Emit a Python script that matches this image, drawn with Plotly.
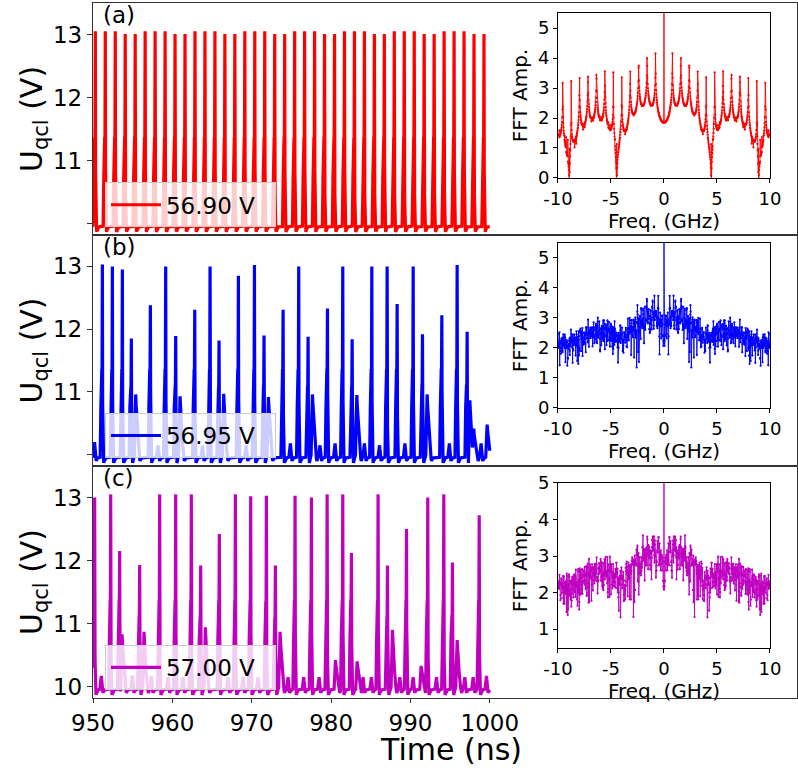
import numpy as np
import plotly.graph_objects as go

# ---------------- data ----------------
labels = ["56.90 V", "56.95 V", "57.00 V"]
panel_tags = ["(a)", "(b)", "(c)"]
colors = ["rgb(255,0,0)", "rgb(0,0,255)", "rgb(191,0,191)"]

# (a) 56.90 V: regular spike train (spike peak times, ns) and peak voltages (V)
spike_t_a = [950.294, 951.550, 952.806, 954.061, 955.317, 956.572, 957.828, 959.084,
             960.339, 961.595, 962.850, 964.106, 965.362, 966.617, 967.873, 969.128,
             970.384, 971.640, 972.895, 974.151, 975.406, 976.662, 977.918, 979.173,
             980.429, 981.684, 982.940, 984.196, 985.451, 986.707, 987.962, 989.218,
             990.474, 991.729, 992.985, 994.240, 995.496, 996.752, 998.007, 999.263]
spike_v_a = [13.05] * len(spike_t_a)

# (b) 56.95 V
spike_t_b = [950.20, 951.18, 952.44, 953.70, 954.83, 955.38, 957.23, 958.20, 959.16, 960.42,
             960.97, 962.82, 963.80, 964.75, 965.88, 966.47, 968.32, 969.30, 970.34, 971.55,
             972.10, 973.95, 974.87, 975.92, 977.10, 977.65, 978.60, 979.54, 980.50, 981.47,
             982.65, 983.24, 984.20, 985.13, 986.10, 987.06, 988.32, 989.30, 990.34, 991.51,
             992.10, 993.95, 994.90, 995.88, 997.14, 997.48, 997.98, 998.90, 999.66]
spike_v_b = [10.20, 13.03, 13.00, 12.95, 11.85, 10.96, 12.38, 10.15, 13.00, 11.89,
             10.93, 12.31, 10.15, 13.00, 11.82, 10.97, 12.85, 10.15, 13.02, 11.90,
             10.92, 12.31, 10.18, 13.00, 11.88, 10.96, 10.15, 12.33, 10.18, 13.00,
             11.84, 10.95, 10.18, 13.00, 10.15, 13.00, 12.40, 10.18, 13.00, 11.92,
             10.96, 12.22, 10.18, 13.02, 11.96, 10.87, 10.43, 10.18, 10.48]

# (c) 57.00 V
spike_t_c = [950.21, 951.05, 952.23, 953.36, 953.66, 954.96, 955.88, 956.43, 957.35, 958.40,
             959.45, 960.42, 961.34, 962.39, 963.57, 964.16, 965.92, 967.02, 967.94, 968.91,
             969.87, 970.80, 971.85, 972.98, 973.57, 974.58, 975.46, 976.55, 977.52, 978.49,
             979.50, 980.55, 981.47, 982.56, 983.28, 984.03, 985.08, 985.92, 987.10, 987.73,
             988.66, 989.50, 990.34, 991.34, 992.18, 993.28, 994.20, 995.29, 995.88, 996.85,
             997.90, 998.66, 999.58]
spike_v_c = [13.00, 10.17, 13.05, 12.15, 10.85, 10.18, 11.93, 10.87, 10.17, 13.05,
             10.15, 13.05, 10.15, 13.05, 11.92, 10.94, 12.42, 10.15, 13.05, 10.15,
             13.02, 10.15, 13.03, 11.92, 10.87, 10.15, 13.03, 10.15, 13.00, 10.15,
             13.05, 10.42, 13.05, 12.12, 10.40, 10.15, 10.15, 13.05, 11.92, 10.90,
             10.15, 12.50, 10.15, 10.33, 13.00, 10.15, 13.05, 11.97, 10.74, 10.15,
             10.15, 12.72, 10.17]

baseline_v = 9.95          # resting voltage between spikes (V)
t_start, t_end = 950.0, 1000.0
dt_ns = 0.001              # simulation step (ns)

time_ticks = [950, 960, 970, 980, 990, 1000]
freq_ticks = [-10, -5, 0, 5, 10]
freq_ticktext = ["-10", "-5", "0", "5", "10"]

# ---------------- build traces from the spike lists ----------------
def spike_profile(p):
    if p >= 11.5:
        h = 11.32 if p > 12.0 else 10.0 + 0.55 * (p - 10.0)
        d = [-0.28, -0.21, -0.175, -0.04, 0.0, 0.03, 0.065, 0.16, 0.35]
        v = [baseline_v, 10.3, h, h + 0.05, p, 11.0, 10.0, 9.87, baseline_v]
    elif p >= 10.3:
        d = [-0.18, 0.0, 0.12, 0.35, 0.55, 0.70]
        v = [baseline_v, p, baseline_v + 0.65 * (p - baseline_v), 10.05, 9.90, baseline_v]
    else:
        d = [-0.20, 0.0, 0.20, 0.35]
        v = [baseline_v, p, 9.90, baseline_v]
    return np.array(d), np.array(v) - baseline_v

t = t_start + dt_ns * np.arange(int(round((t_end - t_start) / dt_ns)))

def waveform(times, peaks):
    assert len(times) == len(peaks)
    u = np.full_like(t, baseline_v)
    for tk, pk in zip(times, peaks):
        d, e = spike_profile(pk)
        u += np.interp(t, tk + d, e, left=0.0, right=0.0)
    return u

def spectrum(u):
    X = np.fft.fftshift(np.fft.fft(u))
    f = np.fft.fftshift(np.fft.fftfreq(len(u), d=dt_ns))
    m = np.abs(f) <= 10.0
    return f[m], np.log10(np.abs(X[m]) + 1e-12)

series = [waveform(spike_t_a, spike_v_a), waveform(spike_t_b, spike_v_b), waveform(spike_t_c, spike_v_c)]

# ---------------- figure ----------------
FONT = "DejaVu Sans"
fig = go.Figure()

row_dom = [[0.6662, 1.0], [0.3338, 0.6662], [0.0, 0.3338]]
fft_dom_y = [[0.7482, 0.9856], [0.4173, 0.6547], [0.0719, 0.3094]]
fft_dom_x = [0.6605, 0.9616]
fft_yrange = [[0, 5.5], [0, 5.5], [0.48, 5.0]]
fft_ytick = [[0, 1, 2, 3, 4, 5], [0, 1, 2, 3, 4, 5], [1, 2, 3, 4, 5]]
legend_y = [0.742, 0.41, 0.0763]

step = 2
for i in range(3):
    u = series[i]
    xa = "x" if i == 0 else f"x{i+1}"
    ya = "y" if i == 0 else f"y{i+1}"
    lg = "legend" if i == 0 else f"legend{i+1}"
    fig.add_trace(go.Scatter(x=t[::step], y=u[::step], mode="lines", name=labels[i] + "\u00a0\u00a0",
                             line=dict(color=colors[i], width=3.2),
                             xaxis=xa, yaxis=ya, legend=lg, showlegend=True))
    f, a = spectrum(u)
    fig.add_trace(go.Scatter(x=f, y=a, mode="lines+markers",
                             line=dict(color=colors[i], width=0.9),
                             marker=dict(color=colors[i], size=2.2),
                             xaxis=f"x{i+4}", yaxis=f"y{i+4}", showlegend=False))

layout = dict(
    width=798, height=768,
    margin=dict(l=93, r=1, t=3, b=70, autoexpand=False),
    paper_bgcolor="white", plot_bgcolor="white",
    font=dict(family=FONT, color="black"),
    showlegend=True,
)

axline = dict(showline=True, linecolor="#333", linewidth=1.3, mirror=True,
              showgrid=False, zeroline=False, automargin=False)

for i in range(3):
    xk = "xaxis" if i == 0 else f"xaxis{i+1}"
    yk = "yaxis" if i == 0 else f"yaxis{i+1}"
    ya = "y" if i == 0 else f"y{i+1}"
    xa = "x" if i == 0 else f"x{i+1}"
    layout[xk] = dict(axline, domain=[0, 1], anchor=ya, range=[950, 1038.7],
                      tickvals=time_ticks, ticks="outside" if i == 2 else "",
                      ticklen=4, tickcolor="#333",
                      showticklabels=(i == 2), tickfont=dict(size=23, family=FONT))
    layout[yk] = dict(axline, domain=row_dom[i], anchor=xa, range=[9.82, 13.5],
                      tickvals=[10, 11, 12, 13],
                      ticktext=(["", "11", "12", "13"] if i < 2 else ["10", "11", "12", "13"]),
                      ticks="outside", ticklen=5, tickcolor="#333",
                      tickfont=dict(size=23, family=FONT),
                      title=dict(text="U<sub>qcl</sub> (V)", font=dict(size=30, family=FONT), standoff=0))
    # FFT inset
    layout[f"xaxis{i+4}"] = dict(showline=True, linecolor="black", linewidth=1, mirror=True,
                                 showgrid=False, zeroline=False, automargin=False,
                                 domain=fft_dom_x, anchor=f"y{i+4}", range=[-10, 10],
                                 tickvals=freq_ticks, ticktext=freq_ticktext,
                                 ticks="outside", ticklen=4, tickcolor="black",
                                 tickfont=dict(size=18, family=FONT),
                                 title=dict(text="Freq. (GHz)", font=dict(size=20, family=FONT), standoff=1))
    layout[f"yaxis{i+4}"] = dict(showline=True, linecolor="black", linewidth=1, mirror=True,
                                 showgrid=False, zeroline=False, automargin=False,
                                 domain=fft_dom_y[i], anchor=f"x{i+4}", range=fft_yrange[i],
                                 tickvals=fft_ytick[i], ticks="outside", ticklen=4, tickcolor="black",
                                 tickfont=dict(size=18, family=FONT),
                                 title=dict(text="FFT Amp.", font=dict(size=20, family=FONT), standoff=4))
    lg = "legend" if i == 0 else f"legend{i+1}"
    layout[lg] = dict(x=0.017, y=legend_y[i], xanchor="left", yanchor="top",
                      bgcolor="rgba(255,255,255,0.8)", bordercolor="#cccccc", borderwidth=1,
                      font=dict(size=23, family=FONT), itemwidth=50)

fig.update_layout(**layout)

annotations = []
for i in range(3):
    annotations.append(dict(text=panel_tags[i], x=0.012, y=row_dom[i][1], xref="paper", yref="paper",
                            xanchor="left", yanchor="top", showarrow=False, yshift=3,
                            font=dict(size=23, family=FONT)))
annotations.append(dict(text="Time (ns)", x=0.5085, y=-0.0745, xref="paper", yref="paper",
                        xanchor="center", yanchor="middle", showarrow=False,
                        font=dict(size=30, family=FONT)))
fig.update_layout(annotations=annotations)

fig.write_html("out.html", config={"displayModeBar": False},
               post_script="document.body.style.margin='0px';document.body.style.overflow='hidden';")
